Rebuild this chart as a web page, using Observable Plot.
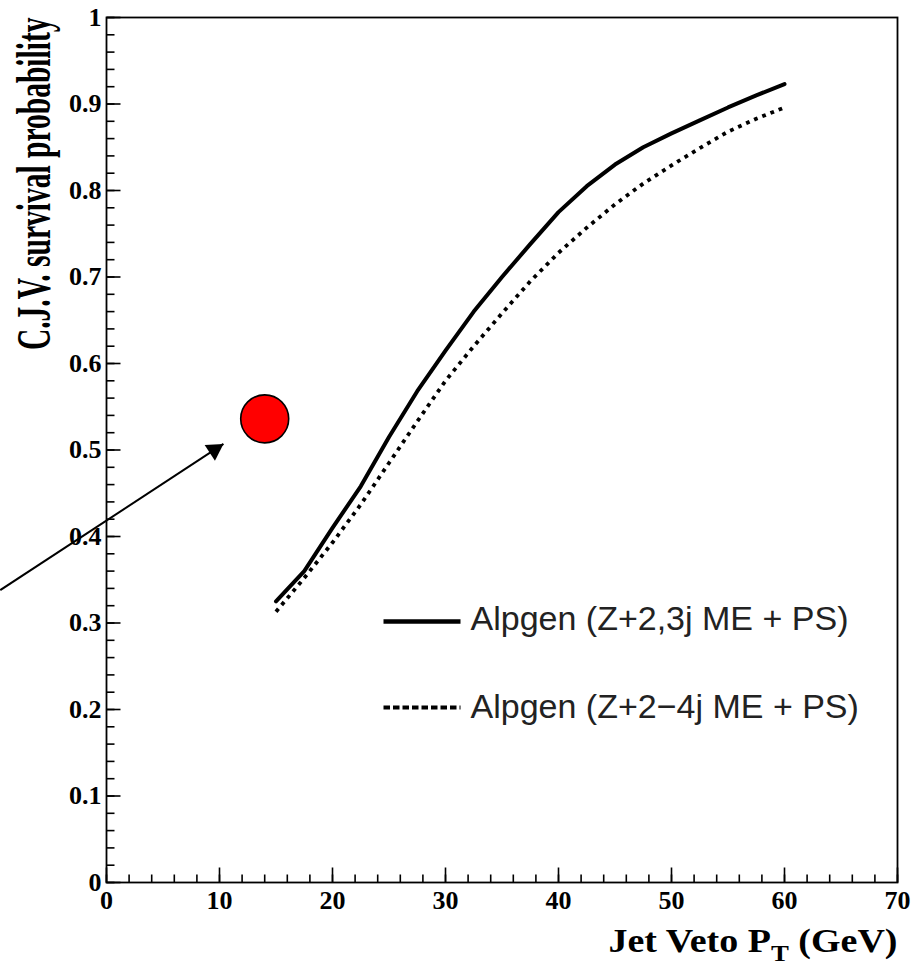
<!DOCTYPE html>
<html><head><meta charset="utf-8">
<script src="https://cdn.jsdelivr.net/npm/d3@7"></script>
<script src="https://cdn.jsdelivr.net/npm/@observablehq/plot@0.6"></script>
<style>body{margin:0;background:#fff}</style>
</head><body><div id="chart"></div>
<script>
// ---- data ----
const ptValues = [15,17.5,20,22.5,25,27.5,30,32.5,35,37.5,40,42.5,45,47.5,50,52.5,55,57.5,60];
const survival23j = [0.325,0.360,0.410,0.458,0.515,0.568,0.615,0.660,0.700,0.738,0.775,0.805,0.830,0.850,0.866,0.881,0.896,0.910,0.923];
const survival24j = [0.313,0.352,0.393,0.437,0.485,0.533,0.580,0.620,0.658,0.695,0.728,0.757,0.784,0.808,0.829,0.849,0.868,0.883,0.896];
const seriesNames = ["Alpgen (Z+2,3j ME + PS)", "Alpgen (Z+2\u22124j ME + PS)"];
const markerPoint = [{pt: 14, p: 0.536}];
const arrowSeg = [{x1: -9.4, y1: 0.338, x2: 10.35, y2: 0.507}];
const xTicks = [0,10,20,30,40,50,60,70];
const yTicks = [0,0.1,0.2,0.3,0.4,0.5,0.6,0.7,0.8,0.9,1];
const xTitleParts = ["Jet Veto P", "T", " (GeV)"];
const yTitle = "C.J.V. survival probability";

// ---- layout ----
const W = 923, H = 967, mL = 106, mR = 26, mT = 17, mB = 85;
const xDomain = [0, 70], yDomain = [0, 1];
const xMinor = d3.range(0, 70.001, 2);
const yMinor = d3.range(0, 1.0001, 0.02);
const serif = "Liberation Serif, Times New Roman, serif";
const sans = "Liberation Sans, Arial, sans-serif";

const xs = Plot.scale({x: {domain: xDomain, range: [mL, W - mR]}});
const ys = Plot.scale({y: {domain: yDomain, range: [H - mB, mT]}});
const a = arrowSeg[0];
const ax = xs.apply(a.x2) - xs.apply(a.x1), ay = ys.apply(a.y2) - ys.apply(a.y1);
const theta = Math.atan2(ax, -ay);
const headR = 7;
const back = 2 * headR * Math.sqrt(Math.PI / (3 * Math.sqrt(3)));

const lineShape = {draw(ctx, l) { ctx.moveTo(0, 0); ctx.lineTo(0, -l); }};
const rows23 = ptValues.map((x, i) => ({x, y: survival23j[i]}));
const rows24 = ptValues.map((x, i) => ({x, y: survival24j[i]}));

const legendStyles = [
  {strokeWidth: 4.5, strokeDasharray: null},
  {strokeWidth: 4, strokeDasharray: "6.5,3"}
];
const legendMarks = seriesNames.flatMap((name, i) => [
  Plot.vector([name], {frameAnchor: "top-left", dx: 277, dy: 604 + 86 * i, rotate: 90, length: 77,
    anchor: "start", shape: lineShape, stroke: "black", strokeLinecap: "butt",
    strokeWidth: legendStyles[i].strokeWidth, strokeDasharray: legendStyles[i].strokeDasharray}),
  Plot.text([name], {frameAnchor: "top-left", dx: 364, dy: 612 + 88 * i, text: d => d,
    textAnchor: "start", lineAnchor: "bottom", fontSize: 34, fontWeight: "normal", fontFamily: sans, fill: "#222"})
]);

const xTitle = xTitleParts.join("");
const plot = Plot.plot({
  width: W, height: H,
  marginLeft: mL, marginRight: mR, marginTop: mT, marginBottom: mB,
  style: {fontFamily: serif, fontWeight: "bold", fontSize: "26px", color: "black", background: "white", overflow: "visible"},
  x: {domain: xDomain, label: null},
  y: {domain: yDomain, label: null},
  marks: [
    Plot.axisX(xTicks, {tickFormat: d => String(d), tickSize: 0, tickPadding: 8, fontSize: 26, fontWeight: "bold", label: null}),
    Plot.axisY(yTicks, {tickFormat: d => String(d), tickSize: 0, tickPadding: 5, fontSize: 26, fontWeight: "bold", label: null}),
    // minor & major ticks pointing inward
    Plot.vector(xMinor, {x: d => d, y: 0, length: 8, rotate: 0, anchor: "start", shape: lineShape, strokeWidth: 1.6, strokeLinecap: "butt"}),
    Plot.vector(xTicks, {x: d => d, y: 0, length: 15, rotate: 0, anchor: "start", shape: lineShape, strokeWidth: 1.6, strokeLinecap: "butt"}),
    Plot.vector(yMinor, {x: 0, y: d => d, length: 8, rotate: 90, anchor: "start", shape: lineShape, strokeWidth: 1.6, strokeLinecap: "butt"}),
    Plot.vector(yTicks, {x: 0, y: d => d, length: 14, rotate: 90, anchor: "start", shape: lineShape, strokeWidth: 1.6, strokeLinecap: "butt"}),
    Plot.frame({stroke: "black", strokeWidth: 1.8}),
    // curves
    Plot.line(rows23, {x: "x", y: "y", stroke: "black", strokeWidth: 4, strokeLinejoin: "round"}),
    Plot.line(rows24, {x: "x", y: "y", stroke: "black", strokeWidth: 3.8, strokeDasharray: "3.8,5", strokeLinecap: "butt"}),
    // annotation: red marker and arrow
    Plot.dot(markerPoint, {x: "pt", y: "p", r: 24, fill: "#ff0000", stroke: "black", strokeWidth: 1.6}),
    Plot.link(arrowSeg, {x1: "x1", y1: "y1", x2: "x2", y2: "y2", stroke: "black", strokeWidth: 2}),
    Plot.dot(arrowSeg, {x: "x2", y: "y2", symbol: "triangle", r: headR, fill: "black", stroke: "none",
      rotate: theta * 180 / Math.PI, dx: -back * Math.sin(theta), dy: back * Math.cos(theta)}),
    // legend
    ...legendMarks,
    // axis titles
    Plot.text([yTitle], {frameAnchor: "top-left", dx: -57, dy: 0, rotate: -90, text: d => d,
      textAnchor: "end", lineAnchor: "bottom", fontSize: 48, fontWeight: "bold", fontFamily: serif}),
    Plot.text([xTitle], {frameAnchor: "bottom-right", dx: 0, dy: 69, text: d => d,
      textAnchor: "end", lineAnchor: "bottom", fontSize: 34, fontWeight: "bold", fontFamily: serif})
  ]
});

// post-process: subscript, condensed title glyphs, tick label size
const ns = "http://www.w3.org/2000/svg";
plot.querySelectorAll('g[aria-label$="tick label"]').forEach(g => {
  g.setAttribute("font-size", "26");
  g.style.fontSize = "26px";
  g.querySelectorAll("text").forEach(t => { t.style.fontSize = "26px"; t.style.fontWeight = "bold"; });
});
plot.querySelectorAll("text").forEach(t => {
  if (t.textContent === xTitle) {
    t.textContent = "";
    const p0 = document.createElementNS(ns, "tspan"); p0.textContent = xTitleParts[0];
    const p1 = document.createElementNS(ns, "tspan"); p1.textContent = xTitleParts[1];
    p1.setAttribute("font-size", "24"); p1.setAttribute("dy", "9");
    const p2 = document.createElementNS(ns, "tspan"); p2.textContent = xTitleParts[2];
    p2.setAttribute("dy", "-9");
    t.append(p0, p1, p2);
    t.setAttribute("textLength", "289");
    t.setAttribute("lengthAdjust", "spacingAndGlyphs");
  } else if (t.textContent === yTitle) {
    const tr = t.getAttribute("transform") || "";
    t.setAttribute("transform", tr + " scale(0.615,1)");
  }
});
document.getElementById("chart").append(plot);
</script>
</body></html>
